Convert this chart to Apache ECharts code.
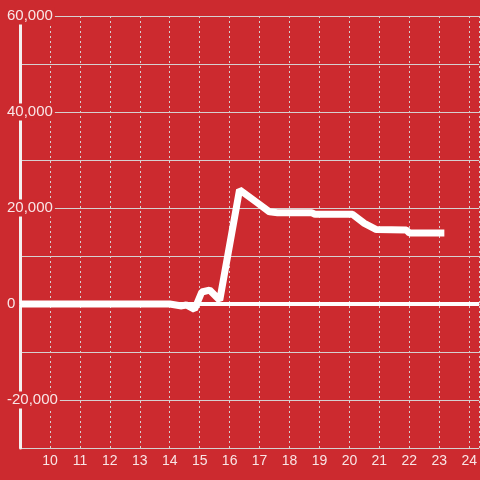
<!DOCTYPE html>
<html>
<head>
<meta charset="utf-8">
<script src="https://cdn.jsdelivr.net/npm/echarts@6/dist/echarts.min.js"></script>
<style>
  html, body { margin: 0; padding: 0; background: #cc2a2f; }
  #chart { width: 480px; height: 480px; }
</style>
</head>
<body>
<div id="chart"></div>
<script>
// data
const xValues = [9, 14.0, 14.4, 14.55, 14.83, 15.07, 15.33, 15.67, 16.33, 16.9, 17.33, 17.6, 18.75, 18.85, 20.1, 20.5, 20.9, 21.9, 22.0, 23.17];
const yValues = [0, 0, -400, -200, -1100, 2500, 2900, 800, 23800, 21200, 19200, 19000, 19000, 18700, 18700, 16800, 15500, 15400, 14800, 14800];
const yLabelValues = [-20000, 0, 20000, 40000, 60000];

const bg = '#cc2a2f';
const gridColor = '#d6d0d0';
const textColor = 'rgba(255,255,255,0.88)';

const chart = echarts.init(document.getElementById('chart'));

const option = {
  backgroundColor: bg,
  animation: false,
  grid: { left: 20, right: 0, top: 16, bottom: 32, containLabel: false },
  xAxis: {
    type: 'value',
    min: 9,
    max: 24.333,
    interval: 1,
    axisLine: { show: true, lineStyle: { color: gridColor, width: 1 } },
    axisTick: { show: false },
    axisLabel: {
      color: textColor,
      fontSize: 14,
      fontFamily: 'Liberation Sans, Arial, sans-serif',
      margin: 6,
      showMinLabel: false,
      showMaxLabel: false
    },
    splitLine: { show: true, lineStyle: { color: gridColor, type: [2, 3], width: 1 } }
  },
  yAxis: {
    type: 'value',
    min: -30000,
    max: 60000,
    interval: 10000,
    axisLine: { show: true, onZero: false, lineStyle: { color: '#f4f0f0', width: 3 } },
    axisTick: { show: false },
    axisLabel: {
      margin: 13,
      align: 'left',
      formatter: function (v) {
        if (yLabelValues.indexOf(v) < 0) return '';
        return '{a|' + v.toLocaleString('en-US') + '}';
      },
      rich: {
        a: {
          color: textColor,
          fontSize: 15,
          fontFamily: 'Liberation Sans, Arial, sans-serif',
          backgroundColor: bg,
          padding: [1, 2, 1, 0]
        }
      }
    },
    splitLine: { show: true, lineStyle: { color: gridColor, width: 1 } }
  },
  series: [
    {
      type: 'line',
      data: xValues.map((x, i) => [x, yValues[i]]),
      showSymbol: false,
      lineStyle: { color: '#ffffff', width: 7 },
      z: 3,
      markLine: {
        silent: true,
        symbol: 'none',
        label: { show: false },
        lineStyle: { color: '#ffffff', width: 4, type: 'solid' },
        data: [{ yAxis: 0 }]
      }
    }
  ]
};

chart.setOption(option);
</script>
</body>
</html>
